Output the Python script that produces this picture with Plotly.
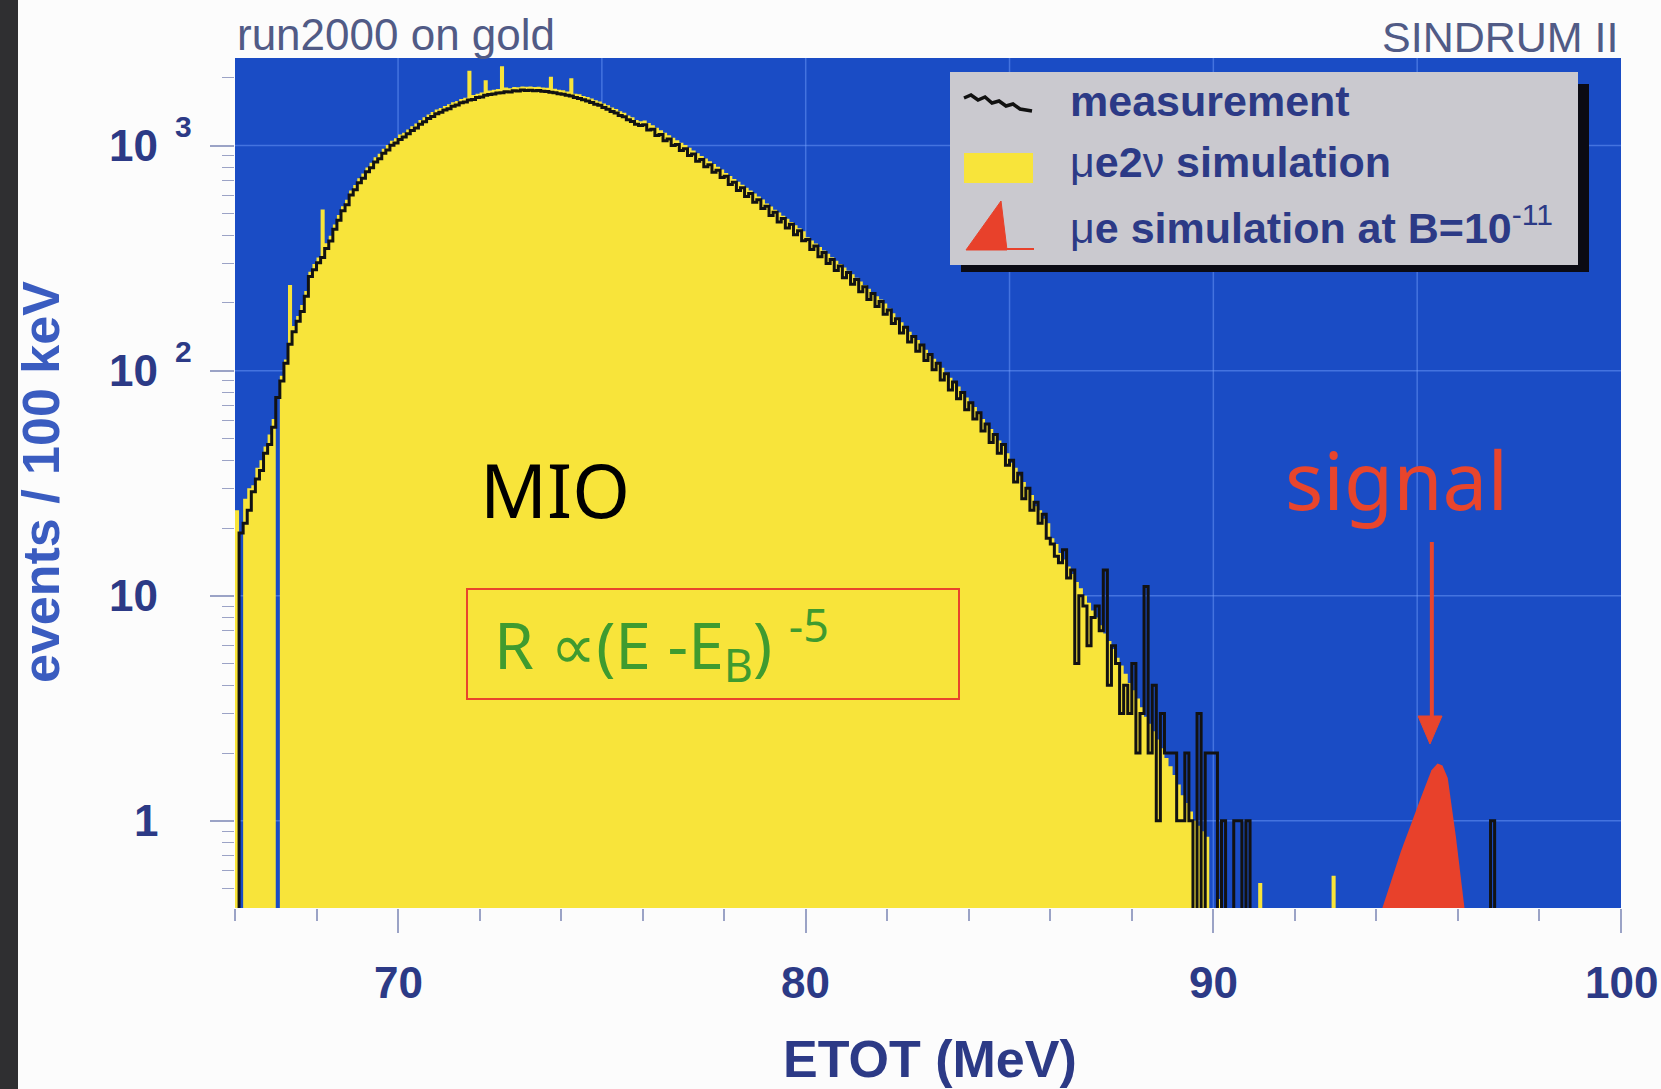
import numpy as np
import plotly.graph_objects as go

# ---------------------------------------------------------------- data
# Histograms in 100 keV bins starting at 66.0 MeV
bin_width = 0.1
e_start = 66.0

# measured events per bin (SINDRUM II, run2000 on gold)
meas_counts = [
    0, 19, 21, 24, 29, 33, 36, 43, 47, 56,                        # 66.x
    76, 90, 108, 131, 149, 166, 183, 214, 262, 281,               # 67.x
    302, 318, 349, 377, 425, 466, 514, 546, 603, 637,             # 68.x
    684, 716, 765, 797, 846, 874, 925, 957, 1004, 1026,           # 69.x
    1065, 1092, 1128, 1166, 1197, 1245, 1276, 1318, 1347, 1384,   # 70.x
    1405, 1441, 1458, 1497, 1516, 1549, 1563, 1595, 1604, 1636,   # 71.x
    1645, 1672, 1688, 1697, 1712, 1718, 1736, 1729, 1752, 1747,   # 72.x
    1765, 1756, 1762, 1751, 1759, 1742, 1738, 1726, 1719, 1701,   # 73.x
    1693, 1672, 1660, 1634, 1621, 1597, 1578, 1556, 1527, 1509,   # 74.x
    1476, 1452, 1418, 1396, 1361, 1342, 1303, 1281, 1244, 1227,   # 75.x
    1238, 1172, 1181, 1109, 1121, 1052, 1069, 1001, 1012, 951,    # 76.x
    968, 903, 917, 851, 868, 805, 821, 762, 778, 721,             # 77.x
    731, 672, 688, 632, 649, 594, 612, 560, 575, 526,             # 78.x
    538, 489, 506, 458, 474, 430, 447, 402, 418, 378,             # 79.x
    383, 345, 358, 321, 335, 299, 312, 279, 292, 259,             # 80.x
    273, 242, 254, 224, 236, 207, 220, 193, 203, 178,             # 81.x
    186, 162, 170, 147, 156, 134, 142, 122, 130, 111,             # 82.x
    118, 101, 108, 91, 97, 82, 89, 75, 80, 67,                    # 83.x
    72, 61, 65, 54, 58, 48, 52, 43, 47, 38,                       # 84.x
    40, 32, 35, 27, 30, 24, 26, 21, 23, 18,                       # 85.x
    17, 15, 14, 16, 12, 13, 5, 10, 9, 6,                          # 86.x
    8, 9, 7, 13, 4, 6, 5, 3, 4, 3,                                # 87.x
    5, 2, 3, 11, 2, 4, 1, 3, 2, 2,                                # 88.x
    2, 1, 1, 2, 1, 0, 3, 0, 2, 2,                                 # 89.x
    2, 0, 1, 0, 0, 1, 1, 0, 1, 0,                                 # 90.x
    0, 0, 0, 0, 0, 0, 0, 0, 0, 0,                                 # 91.x
    0, 0, 0, 0, 0, 0, 0, 0, 0, 0,                                 # 92.x
    0, 0, 0, 0, 0, 0, 0, 0, 0, 0,                                 # 93.x
    0, 0, 0, 0, 0, 0, 0, 0, 0, 0,                                 # 94.x
    0, 0, 0, 0, 0, 0, 0, 0, 0, 0,                                 # 95.x
    0, 0, 0, 0, 0, 0, 0, 0, 1, 0,                                 # 96.x
    0, 0, 0, 0, 0, 0, 0, 0, 0, 0,                                 # 97.x
    0, 0, 0, 0, 0, 0, 0, 0, 0, 0,                                 # 98.x
    0, 0, 0, 0, 0, 0, 0, 0, 0, 0,                                 # 99.x
]

# mu e 2 nu (decay in orbit) simulation, same binning
sim_counts = [
    24, 0, 27, 30, 31, 37, 40, 46, 52, 61,                        # 66.x
    0, 95, 112, 240, 158, 175, 196, 226, 275, 298,                # 67.x
    318, 520, 368, 398, 446, 492, 538, 575, 632, 668,             # 68.x
    716, 752, 800, 838, 888, 920, 968, 1005, 1050, 1078,          # 69.x
    1120, 1140, 1180, 1220, 1255, 1300, 1335, 1375, 1410, 1445,   # 70.x
    1470, 1500, 1525, 1560, 1580, 1610, 1630, 2150, 1680, 1700,   # 71.x
    1720, 1950, 1755, 1770, 1785, 2250, 1810, 1800, 1820, 1815,   # 72.x
    1830, 1825, 1830, 1820, 1825, 1810, 1805, 2020, 1790, 1770,   # 73.x
    1760, 1740, 1990, 1700, 1690, 1660, 1645, 1620, 1590, 1572,   # 74.x
    1540, 1512, 1478, 1455, 1420, 1400, 1360, 1338, 1300, 1282,   # 75.x
    1293, 1261, 1230, 1199, 1169, 1140, 1111, 1083, 1057, 1030,   # 76.x
    1007, 979, 952, 925, 900, 876, 851, 828, 806, 783,            # 77.x
    755, 732, 711, 690, 670, 650, 631, 612, 594, 576,             # 78.x
    553, 536, 519, 504, 488, 473, 458, 443, 429, 416,             # 79.x
    392, 379, 367, 354, 342, 331, 319, 308, 298, 287,             # 80.x
    278, 268, 259, 249, 240, 231, 223, 214, 207, 199,             # 81.x
    189, 180, 172, 164, 157, 149, 143, 137, 130, 124,             # 82.x
    119, 113, 108, 103, 98, 93, 89, 85, 81, 76,                   # 83.x
    72, 69, 65, 61, 58, 55, 52, 49, 47, 43,                       # 84.x
    39, 37, 34, 32, 30, 28, 25, 24, 22, 21,                       # 85.x
    18, 17, 15.5, 14.5, 13.5, 12.5, 11.5, 10.8, 10, 9.3,          # 86.x
    8.6, 8, 7.4, 6.8, 6.3, 5.8, 5.3, 4.9, 4.5, 4.1,               # 87.x
    3.8, 3.5, 3.2, 2.9, 2.7, 2.5, 2.3, 2.1, 1.9, 1.75,            # 88.x
    1.6, 1.45, 1.3, 1.2, 1.1, 1.0, 0.95, 0.9, 0.85, 0,            # 89.x
    0, 0.45, 0, 0, 0, 0, 0, 0, 0, 0,                              # 90.x
    0, 0.53, 0, 0, 0, 0, 0, 0, 0, 0,                              # 91.x
    0, 0, 0, 0, 0, 0, 0, 0, 0, 0.57,                              # 92.x
    0, 0, 0, 0, 0, 0, 0, 0, 0, 0,                                 # 93.x
    0, 0, 0, 0, 0, 0, 0, 0, 0, 0,                                 # 94.x
    0, 0, 0, 0, 0, 0, 0, 0, 0, 0,                                 # 95.x
    0, 0, 0, 0, 0, 0, 0, 0, 0, 0,                                 # 96.x
    0, 0, 0, 0, 0, 0, 0, 0, 0, 0,                                 # 97.x
    0, 0, 0, 0, 0, 0, 0, 0, 0, 0,                                 # 98.x
    0, 0, 0, 0, 0, 0, 0, 0, 0, 0,                                 # 99.x
]

# mu -> e conversion simulation at B = 1e-11 (signal peak)
signal_energy = [93.9, 94.6, 95.1, 95.35, 95.5, 95.62, 95.75, 95.95, 96.25]
signal_counts = [0.3, 0.73, 1.28, 1.68, 1.8, 1.76, 1.55, 0.85, 0.3]

x_major_ticks = [70, 80, 90, 100]
x_tick_labels = ["70", "80", "90", "100"]
y_decades = [1, 10, 100, 1000]
y_tick_base = ["1", "10", "10", "10"]
y_tick_exp = ["", "", "2", "3"]
grid_energies = [70, 75, 80, 85, 90, 95]

x_range = [66.0, 100.0]
y_range = [np.log10(0.41), np.log10(2450)]

# ---------------------------------------------------------------- styling
W, H = 1661, 1089
PL, PR, PT, PB = 235, 1621, 58, 908      # plot area in pixels

BLUE = "#1a4cc5"
YELLOW = "#f8e43a"
RED = "#e8412b"
NAVY = "#2c3a86"
GREEN = "#3f9b2f"


def px(xp):
    return (xp - PL) / (PR - PL)


def py(yp):
    return (PB - yp) / (PB - PT)


def y_frac(v):
    return (np.log10(v) - y_range[0]) / (y_range[1] - y_range[0])


meas = np.array(meas_counts, dtype=float)
sim = np.array(sim_counts, dtype=float)
edges = e_start + bin_width * np.arange(len(meas) + 1)

# empty bins are pushed far below the visible log range
meas_plot = np.where(meas > 0, meas, 1e-2)
sim_plot = np.where(sim > 0, sim, 1e-3)

sim_x = np.concatenate([[edges[0]], edges[:-1], [edges[-1]]])
sim_y = np.concatenate([[1e-3], sim_plot, [1e-3]])

meas_x = edges
meas_y = np.concatenate([meas_plot, [meas_plot[-1]]])

fig = go.Figure()

fig.add_trace(go.Scatter(
    x=sim_x, y=sim_y, mode="lines", line=dict(shape="hv", width=0, color=YELLOW),
    fill="toself", fillcolor=YELLOW, hoverinfo="skip", showlegend=False))

fig.add_trace(go.Scatter(
    x=signal_energy, y=signal_counts, mode="lines", line=dict(width=0, color=RED),
    fill="toself", fillcolor=RED, hoverinfo="skip", showlegend=False))

fig.add_trace(go.Scatter(
    x=meas_x, y=meas_y, mode="lines", line=dict(shape="hv", width=3, color="#121212"),
    hoverinfo="skip", showlegend=False))

shapes = []
# faint grid on the blue background
for e in grid_energies:
    shapes.append(dict(type="line", xref="x", yref="paper", x0=e, x1=e, y0=0, y1=1,
                       line=dict(color="rgba(120,165,255,0.45)", width=1.5), layer="below"))
for v in y_decades:
    shapes.append(dict(type="line", xref="paper", yref="paper", x0=0, x1=1,
                       y0=y_frac(v), y1=y_frac(v),
                       line=dict(color="rgba(120,165,255,0.45)", width=1.5), layer="below"))

# dark strip along the left border of the page
shapes.append(dict(type="rect", xref="paper", yref="paper", x0=px(0), x1=px(18),
                   y0=py(H), y1=py(0), fillcolor="#2f2f31", line=dict(width=0)))

# legend box with drop shadow
shapes.append(dict(type="rect", xref="paper", yref="paper", x0=px(961), x1=px(1589),
                   y0=py(272), y1=py(84), fillcolor="#0b0b14", line=dict(width=0), layer="above"))
shapes.append(dict(type="rect", xref="paper", yref="paper", x0=px(950), x1=px(1578),
                   y0=py(265), y1=py(72), fillcolor="#cac9cf", line=dict(width=0), layer="above"))

# legend symbols
wave = [(964, 98), (971, 95), (978, 100), (985, 97), (992, 103), (999, 101),
        (1006, 106), (1013, 104), (1020, 109), (1032, 111)]
wave_path = "M " + " L ".join(f"{px(a):.5f},{py(b):.5f}" for a, b in wave)
shapes.append(dict(type="path", xref="paper", yref="paper", path=wave_path,
                   line=dict(color="#111111", width=3.5), layer="above"))
shapes.append(dict(type="rect", xref="paper", yref="paper", x0=px(964), x1=px(1033),
                   y0=py(183), y1=py(153), fillcolor=YELLOW, line=dict(width=0), layer="above"))
tri = [(966, 250), (1001, 201), (1007, 250)]
tri_path = "M " + " L ".join(f"{px(a):.5f},{py(b):.5f}" for a, b in tri) + " Z"
shapes.append(dict(type="path", xref="paper", yref="paper", path=tri_path,
                   fillcolor=RED, line=dict(color=RED, width=1), layer="above"))
shapes.append(dict(type="line", xref="paper", yref="paper", x0=px(1005), x1=px(1034),
                   y0=py(249), y1=py(249), line=dict(color=RED, width=2), layer="above"))

# box around the MIO spectrum formula
shapes.append(dict(type="rect", xref="paper", yref="paper", x0=px(467), x1=px(959),
                   y0=py(699), y1=py(589), line=dict(color="#e8452c", width=2),
                   fillcolor="rgba(0,0,0,0)", layer="above"))

# arrow pointing at the expected signal position
arrow_x = 95.36
shapes.append(dict(type="line", xref="x", yref="paper", x0=arrow_x, x1=arrow_x,
                   y0=py(542), y1=py(722), line=dict(color="#e8452c", width=4), layer="above"))
shapes.append(dict(type="path", xref="paper", yref="paper",
                   path=(f"M {px(1418):.5f},{py(716):.5f} L {px(1442):.5f},{py(716):.5f} "
                         f"L {px(1430):.5f},{py(744):.5f} Z"),
                   fillcolor="#e8452c", line=dict(color="#e8452c", width=1), layer="above"))

ann = []
helv = "Liberation Sans, Arial, sans-serif"
round_font = "Noto Sans, DejaVu Sans, sans-serif"

# y tick labels
for v, base, ex in zip(y_decades, y_tick_base, y_tick_exp):
    ann.append(dict(xref="paper", yref="paper", x=px(160), y=y_frac(v), text=f"<b>{base}</b>",
                    xanchor="right", yanchor="middle", showarrow=False,
                    font=dict(family=helv, size=44, color=NAVY)))
    if ex:
        ann.append(dict(xref="paper", yref="paper", x=px(173), y=y_frac(v), text=f"<b>{ex}</b>",
                        xanchor="left", yanchor="middle", yshift=19, showarrow=False,
                        font=dict(family=helv, size=30, color=NAVY)))

# x tick labels
for xv, lab in zip(x_major_ticks, x_tick_labels):
    ann.append(dict(xref="x", yref="paper", x=xv, y=py(983), text=f"<b>{lab}</b>",
                    xanchor="center", yanchor="middle", showarrow=False,
                    font=dict(family=helv, size=44, color=NAVY)))

# axis titles
ann.append(dict(xref="paper", yref="paper", x=px(930), y=py(1059), text="<b>ETOT (MeV)</b>",
                xanchor="center", yanchor="middle", showarrow=False,
                font=dict(family=helv, size=52, color=NAVY)))
ann.append(dict(xref="paper", yref="paper", x=px(41), y=py(482), text="<b>events / 100 keV</b>",
                textangle=-90, xanchor="center", yanchor="middle", showarrow=False,
                font=dict(family=helv, size=52, color="#3a5cc0")))

# header texts
ann.append(dict(xref="paper", yref="paper", x=px(235), y=py(35), text="run2000 on gold",
                xanchor="left", yanchor="middle", showarrow=False,
                font=dict(family=helv, size=44, color="#515b86")))
ann.append(dict(xref="paper", yref="paper", x=px(1621), y=py(37), text="SINDRUM II",
                xanchor="right", yanchor="middle", showarrow=False,
                font=dict(family=helv, size=43, color="#515b86")))

# legend texts
legend_rows = [(101, "<b>measurement</b>"),
               (162, "μ<b>e2</b>ν<b> simulation</b>"),
               (225, "μ<b>e simulation at B=10</b><sup>-11</sup>")]
for yy, txt in legend_rows:
    ann.append(dict(xref="paper", yref="paper", x=px(1068), y=py(yy), text=txt,
                    xanchor="left", yanchor="middle", showarrow=False,
                    font=dict(family=helv, size=43, color=NAVY)))

# physics annotations
ann.append(dict(xref="paper", yref="paper", x=px(555), y=py(489), text="MIO",
                xanchor="center", yanchor="middle", showarrow=False,
                font=dict(family=round_font, size=74, color="#000000")))
ann.append(dict(xref="paper", yref="paper", x=px(492), y=py(644),
                text="R ∝(E -E<sub>B</sub>) <sup>-5</sup>",
                xanchor="left", yanchor="middle", showarrow=False,
                font=dict(family=round_font, size=64, color=GREEN)))
ann.append(dict(xref="paper", yref="paper", x=px(1396), y=py(478), text="signal",
                xanchor="center", yanchor="middle", showarrow=False,
                font=dict(family=round_font, size=80, color="#e8452c")))

fig.update_layout(
    width=W, height=H,
    margin=dict(l=PL, r=W - PR, t=PT, b=H - PB, autoexpand=False),
    paper_bgcolor="#fcfcfc",
    plot_bgcolor=BLUE,
    showlegend=False,
    shapes=shapes,
    annotations=ann,
    xaxis=dict(range=x_range, showgrid=False, zeroline=False, showline=False,
               tickvals=x_major_ticks, showticklabels=False,
               ticks="outside", ticklen=24, tickwidth=1.5, tickcolor="#9ba3c6",
               minor=dict(ticks="outside", dtick=2, tick0=0, ticklen=12, tickwidth=1.5,
                          tickcolor="#9ba3c6", showgrid=False)),
    yaxis=dict(type="log", range=y_range, showgrid=False, zeroline=False, showline=False,
               tickvals=y_decades, showticklabels=False,
               ticks="outside", ticklen=24, tickwidth=1.5, tickcolor="#9ba3c6",
               minor=dict(ticks="outside", ticklen=12, tickwidth=1.2, tickcolor="#9ba3c6",
                          dtick="D1", showgrid=False)),
)

fig.write_html("out.html")
